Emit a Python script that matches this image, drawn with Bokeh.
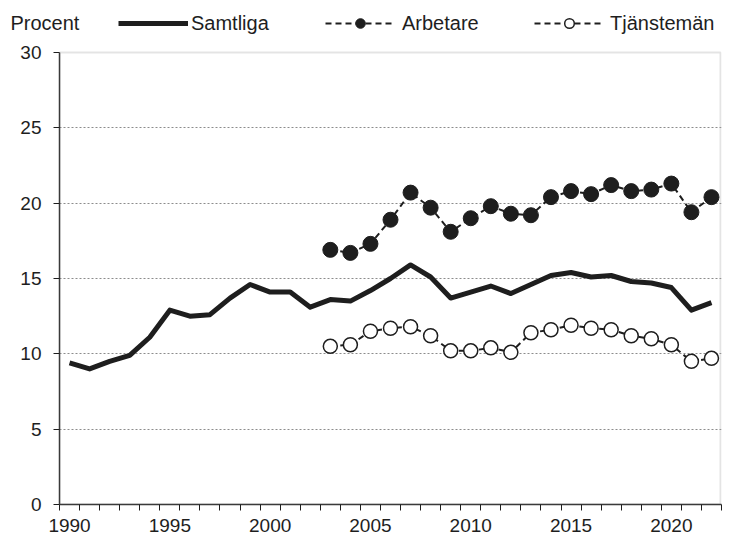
from bokeh.plotting import figure
from bokeh.models import (Range1d, FixedTicker, Legend, LegendItem, Title,
                          BoxAnnotation)
from bokeh.embed import file_html
from bokeh.resources import INLINE

# ---- data ----
years_all = list(range(1990, 2023))
samtliga = [9.4, 9.0, 9.5, 9.9, 11.1, 12.9, 12.5, 12.6, 13.7, 14.6,
            14.1, 14.1, 13.1, 13.6, 13.5, 14.2, 15.0, 15.9, 15.1, 13.7,
            14.1, 14.5, 14.0, 14.6, 15.2, 15.4, 15.1, 15.2, 14.8, 14.7,
            14.4, 12.9, 13.4]
years_sub = list(range(2003, 2023))
arbetare = [16.9, 16.7, 17.3, 18.9, 20.7, 19.7, 18.1, 19.0, 19.8, 19.3,
            19.2, 20.4, 20.8, 20.6, 21.2, 20.8, 20.9, 21.3, 19.4, 20.4]
tjanstemen = [10.5, 10.6, 11.5, 11.7, 11.8, 11.2, 10.2, 10.2, 10.4, 10.1,
              11.4, 11.6, 11.9, 11.7, 11.6, 11.2, 11.0, 10.6, 9.5, 9.7]
x_label_years = [1990, 1995, 2000, 2005, 2010, 2015, 2020]
y_ticks = [0, 5, 10, 15, 20, 25, 30]
grid_ticks = [5, 10, 15, 20, 25]
category_edges = [y - 0.5 for y in years_all] + [years_all[-1] + 0.5]

FONT = "Liberation Sans"
INK = "#1e1e1e"

# ---- layout (pixels) ----
W, H = 723, 534
BORDER_TOP, BORDER_BOTTOM = 4, 30
AXIS_Y = H - BORDER_BOTTOM          # pixel row of value 0
TOP_Y = 52                          # pixel row of value 30
Y_MAX = 30
y_end = Y_MAX * (AXIS_Y - BORDER_TOP) / (AXIS_Y - TOP_Y)
X_START, X_END = 1989.5, 2022.5

p = figure(width=W, height=H, output_backend="svg", toolbar_location=None,
           x_range=Range1d(X_START, X_END), y_range=Range1d(0, y_end),
           min_border_left=59, min_border_right=2,
           min_border_top=BORDER_TOP, min_border_bottom=BORDER_BOTTOM)
p.background_fill_color = "white"
p.border_fill_color = "white"
p.outline_line_color = None

# plot-area box (top and right edges visible; left/bottom covered by axes)
p.add_layout(BoxAnnotation(left=X_START, right=2022.45, bottom=0, top=Y_MAX,
                           fill_alpha=0, line_color="#a6a6a6", line_width=2,
                           level="underlay"))

# axes
xa = p.xaxis[0]
xa.ticker = FixedTicker(ticks=x_label_years, minor_ticks=category_edges)
xa.major_tick_out = 0
xa.major_tick_in = 0
xa.major_tick_line_color = None
xa.minor_tick_out = 6
xa.minor_tick_in = 0
xa.minor_tick_line_color = INK
xa.minor_tick_line_width = 1
xa.axis_line_color = "#3a3a3a"
xa.axis_line_width = 1.5
xa.major_label_standoff = 8
xa.major_label_text_font = FONT
xa.major_label_text_font_size = "19px"
xa.major_label_text_color = INK

ya = p.yaxis[0]
ya.ticker = FixedTicker(ticks=y_ticks)
ya.bounds = (0, Y_MAX)
ya.major_tick_out = 6
ya.major_tick_in = 0
ya.major_tick_line_color = INK
ya.minor_tick_line_color = None
ya.axis_line_color = "#3a3a3a"
ya.axis_line_width = 1.5
ya.major_label_standoff = 12
ya.major_label_text_font = FONT
ya.major_label_text_font_size = "19px"
ya.major_label_text_color = INK

p.xgrid.visible = False
p.ygrid.ticker = FixedTicker(ticks=grid_ticks)
p.ygrid.grid_line_color = "#8c8c8c"
p.ygrid.grid_line_dash = "2 2"
p.ygrid.grid_line_width = 1

# series
s_line = p.line(years_all, samtliga, line_width=5, line_color=INK,
                line_join="round")
a_line = p.line(years_sub, arbetare, line_width=2, line_color=INK,
                line_dash="6 4")
a_pts = p.scatter(years_sub, arbetare, size=15, fill_color=INK,
                  line_color=INK, line_width=1)
t_line = p.line(years_sub, tjanstemen, line_width=2, line_color=INK,
                line_dash="6 4")
t_pts = p.scatter(years_sub, tjanstemen, size=14, fill_color="white",
                  line_color=INK, line_width=1.5)

# legends (inside the extended frame, above the value-30 line)
LEG_CENTER_Y = 23
leg_y = AXIS_Y - LEG_CENTER_Y - 12


def make_legend(label, renderers, x, standoff):
    leg = Legend(items=[LegendItem(label=label, renderers=renderers)],
                 location=(x, leg_y), orientation="horizontal",
                 glyph_width=70, glyph_height=24, label_height=24,
                 label_standoff=standoff, padding=0, margin=0,
                 border_line_color=None, background_fill_alpha=0,
                 label_text_font=FONT, label_text_font_size="20px",
                 label_text_color=INK)
    p.add_layout(leg)


make_legend("Samtliga", [s_line], 59, 3)
make_legend("Arbetare", [a_line, a_pts], 266, 7)
make_legend("Tjänstemän", [t_line, t_pts], 475, 6)

# unit label "Procent" at top left
p.add_layout(Title(text="Procent", align="left", offset=-49,
                   vertical_align="bottom", standoff=-58,
                   text_font=FONT, text_font_size="20px",
                   text_font_style="normal", text_color=INK), "above")

open("out.html", "w").write(file_html(p, INLINE))
